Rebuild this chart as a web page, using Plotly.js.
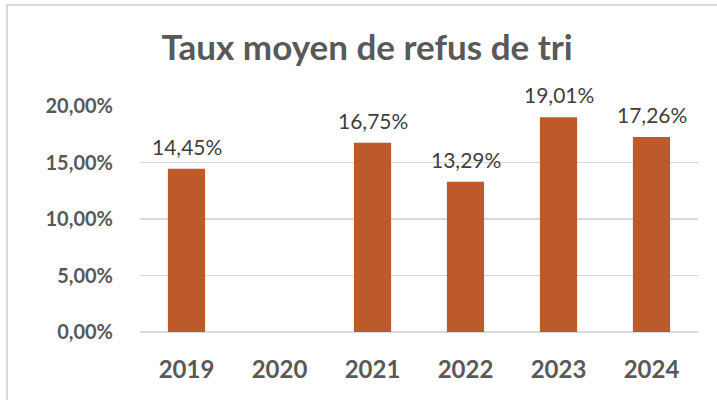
<!DOCTYPE html>
<html><head><meta charset="utf-8">
<script src="https://cdn.plot.ly/plotly-3.0.1.min.js"></script>
<style>html,body{margin:0;padding:0;background:#fff}#wrap{position:relative;width:717px;height:400px;overflow:hidden}#chart{width:717px;height:400px}#frame{position:absolute;left:6px;top:4px;width:800px;height:500px;border-left:2px solid #d9d9d9;border-top:2px solid #d9d9d9;pointer-events:none}</style>
</head><body><div id="wrap"><div id="chart"></div><div id="frame"></div></div>
<script>
const categories = ['2019','2020','2021','2022','2023','2024'];
const values = [0.1445, null, 0.1675, 0.1329, 0.1901, 0.1726];
const labels = ['14,45%', '', '16,75%', '13,29%', '19,01%', '17,26%'];
const yTickVals = [0, 0.05, 0.10, 0.15, 0.20];
const yTickText = ['0,00%', '5,00%', '10,00%', '15,00%', '20,00%'];

const annotations = [];
categories.forEach((c, i) => {
  if (values[i] !== null) annotations.push({x: i, y: values[i], xref: 'x', yref: 'y', text: labels[i], showarrow: false, yanchor: 'bottom', yshift: 8, font: {family: 'Lato, sans-serif', size: 21, color: '#404040'}});
});

Plotly.newPlot('chart', [{
  type: 'bar', x: categories, y: values, marker: {color: '#BC5A2C'}, width: 0.4, hoverinfo: 'none'
}], {
  width: 717, height: 400,
  margin: {l: 140, r: 19, t: 106, b: 68},
  paper_bgcolor: '#fff', plot_bgcolor: '#fff',
  separators: ',.',
  title: {text: '<b>Taux moyen de refus de tri</b>', x: 0.512, xref: 'container', xanchor: 'center', y: 0.88, yref: 'container', yanchor: 'middle', font: {family: 'Lato, sans-serif', size: 35, color: '#595959'}},
  xaxis: {type: 'category', categoryorder: 'array', categoryarray: categories, range: [-0.5, 5.5], showgrid: false, showline: false, zeroline: false, ticks: '', ticklabelstandoff: 21, tickfont: {family: 'Lato, sans-serif', size: 24, color: '#595959', weight: 'bold'}},
  yaxis: {range: [0, 0.20], tickvals: yTickVals, ticktext: yTickText, showgrid: true, gridcolor: '#d9d9d9', gridwidth: 1.5, zeroline: true, zerolinecolor: '#d9d9d9', zerolinewidth: 1.5, showline: false, ticks: '', ticklabelstandoff: 26, tickfont: {family: 'Lato, sans-serif', size: 20, color: '#595959', weight: 'bold'}},
  annotations: annotations,
  showlegend: false
}, {staticPlot: true});
</script></body></html>
